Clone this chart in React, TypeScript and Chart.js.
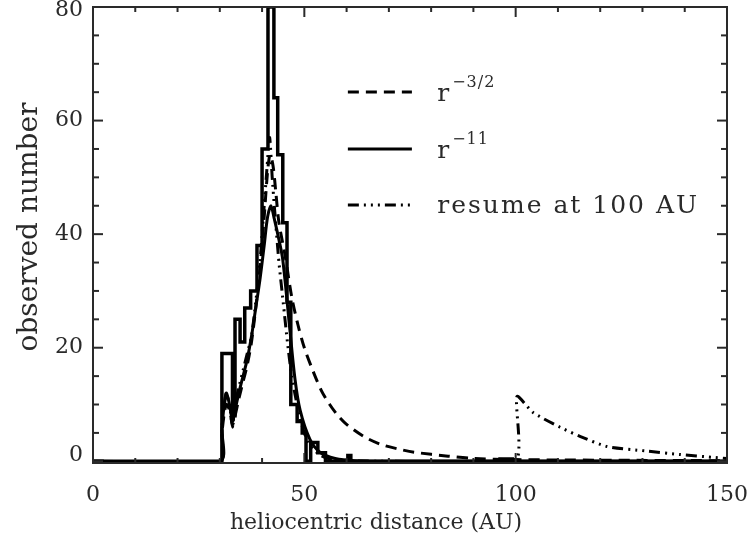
import { useEffect, useRef } from "react";
import { Chart, registerables } from "chart.js";

Chart.register(...registerables);

// ---------- data ----------
const xTicksMajor = [0, 50, 100, 150];
const yTicksMajor = [0, 20, 40, 60, 80];

// histogram: counts[i] applies to [edges[i], edges[i+1]]
const histEdges = [0, 30.5, 33.0, 33.6, 34.8, 35.9, 37.3, 38.8, 40.0, 41.4, 42.8, 43.7, 44.9, 45.9, 46.8, 48.3, 49.5, 50.4, 51.5, 53.2, 55.0, 60.3, 61.0, 96.3, 99.2, 150];
const histCounts = [0, 19, 8, 25, 21, 27, 30, 38, 55, 80, 64, 54, 42, 28, 10, 7, 5, 0, 3.3, 1.5, 0, 1, 0, 0.4, 0, 0];

// r^-3/2 model (dashed)
const flatX = [0, 30, 30.5, 31.5, 32.3, 33, 33.6, 34.5, 35.5, 36.5, 37.5, 38.5, 39.5, 40.5, 41.3, 41.9, 42.6, 43.3, 44, 45.5, 47, 48.5, 50, 52, 54, 56, 58, 60, 64, 68, 72, 76, 84, 90, 100, 120, 150];
const flatY = [0, 0, 5, 10, 9, 6.5, 8, 11, 14, 17, 21, 27, 34, 43, 51, 54, 52, 47, 42, 36, 29, 24, 20, 16, 12.5, 10, 8, 6.5, 4.4, 3, 2.2, 1.6, 0.9, 0.5, 0.3, 0.2, 0.1];

// r^-11 model (solid)
const steepX = [0, 30, 30.5, 31.5, 32.3, 33, 33.6, 34.5, 35.5, 36.5, 37.5, 38.5, 39.5, 40.5, 41.3, 42.1, 42.8, 44, 44.9, 46.6, 47.8, 49, 51.3, 53.7, 57.3, 62, 70, 150];
const steepY = [0, 0, 6, 12, 10, 7, 9, 12, 15, 18, 22, 27, 32, 38, 43, 45, 43, 39, 35.5, 23, 14.4, 9, 3.9, 1.6, 0.5, 0.1, 0, 0];

// resume at 100 AU model (dash-dot-dot-dot)
const resumeX = [0, 30, 30.5, 31.5, 32.3, 33, 33.6, 34.5, 35.5, 36.5, 37.5, 38.5, 39.5, 40.5, 41.3, 41.8, 42.4, 43, 44, 45, 46, 47, 48, 49, 50, 51, 52, 54, 56, 60, 70, 99.9, 100.3, 104.1, 110.5, 115.2, 121.6, 131, 138.9, 146.7, 150];
const resumeY = [0, 0, 6, 12, 10, 6, 10, 13, 16, 19, 22, 28, 35, 45, 53, 57, 50, 44, 35, 28, 21, 15, 11, 7.5, 5, 3.3, 2.2, 1, 0.4, 0.1, 0, 0, 11.4, 8.6, 6, 4.4, 2.6, 1.8, 1.2, 0.7, 0.5];

const legendLabels = [
  { base: "r", sup: "\u22123/2", text: "" },
  { base: "r", sup: "\u221211", text: "" },
  { base: "", sup: "", text: "resume at 100 AU" },
];

const X_MIN = 0;
const X_MAX = 150;
const Y_MIN = -0.3;
const Y_MAX = 80;
const FONT = "'DejaVu Serif', serif";
const INK = "#2a2a2a";

const zip = (xs: number[], ys: number[]) => xs.map((x, i) => ({ x, y: ys[i] }));

const idlPlugin = {
  id: "idlAxes",
  afterDraw(chart: any) {
    const { ctx, chartArea: a, scales } = chart;
    const xs = scales.x;
    const ys = scales.y;
    ctx.save();
    ctx.strokeStyle = INK;
    ctx.fillStyle = INK;
    ctx.lineWidth = 2;
    ctx.setLineDash([]);
    ctx.strokeRect(a.left, a.top, a.right - a.left, a.bottom - a.top);
    const seg = (x1: number, y1: number, x2: number, y2: number) => {
      ctx.beginPath();
      ctx.moveTo(x1, y1);
      ctx.lineTo(x2, y2);
      ctx.stroke();
    };
    // x ticks
    for (let v = X_MIN; v <= X_MAX; v += 10) {
      const px = xs.getPixelForValue(v);
      const len = v % 50 === 0 ? 10 : 5;
      seg(px, a.bottom, px, a.bottom - len);
      seg(px, a.top, px, a.top + len);
    }
    // y ticks
    for (let v = 0; v <= Y_MAX; v += 5) {
      const py = ys.getPixelForValue(v);
      const len = v % 20 === 0 ? 10 : 6;
      seg(a.left, py, a.left + len, py);
      seg(a.right, py, a.right - len, py);
    }
    // tick labels
    ctx.font = `22px ${FONT}`;
    ctx.textBaseline = "middle";
    ctx.textAlign = "center";
    xTicksMajor.forEach((v) => ctx.fillText(String(v), xs.getPixelForValue(v), a.bottom + 32));
    ctx.textAlign = "right";
    yTicksMajor.forEach((v) => {
      let py = ys.getPixelForValue(v);
      if (v === 0) py -= 6;
      if (v === Y_MAX) py += 3;
      ctx.fillText(String(v), a.left - 10, py);
    });
    // axis titles
    ctx.font = `22px ${FONT}`;
    ctx.textAlign = "center";
    ctx.fillText("heliocentric distance (AU)", (a.left + a.right) / 2 - 34, a.bottom + 60);
    ctx.save();
    ctx.font = `28px ${FONT}`;
    ctx.translate(30, (a.top + a.bottom) / 2 - 8);
    ctx.rotate(-Math.PI / 2);
    ctx.fillText("observed number", 0, 0);
    ctx.restore();

    // legend
    const w = a.right - a.left;
    const lx0 = a.left + w * 0.402;
    const lx1 = a.left + w * 0.503;
    const tx = a.left + w * 0.543;
    const rowY = [92, 149, 205];
    const dsIdx = [1, 2, 3];
    dsIdx.forEach((di, i) => {
      const ds = chart.data.datasets[di];
      ctx.strokeStyle = "#000";
      ctx.lineWidth = ds.borderWidth;
      ctx.setLineDash(ds.borderDash || []);
      seg(lx0, rowY[i], lx1, rowY[i]);
      ctx.setLineDash([]);
      ctx.fillStyle = INK;
      ctx.textAlign = "left";
      ctx.textBaseline = "middle";
      const lab = legendLabels[i];
      (ctx as any).letterSpacing = "2px";
      if (lab.text) {
        ctx.font = `25px ${FONT}`;
        ctx.fillText(lab.text, tx, rowY[i] + 1);
      } else {
        ctx.font = `25px ${FONT}`;
        ctx.fillText(lab.base, tx, rowY[i] + 2);
        const bw = ctx.measureText(lab.base).width;
        ctx.font = `16px ${FONT}`;
        (ctx as any).letterSpacing = "1px";
        ctx.fillText(lab.sup, tx + bw + 1, rowY[i] - 9);
      }
      (ctx as any).letterSpacing = "0px";
    });
    ctx.restore();
  },
};

export default function App() {
  const ref = useRef<HTMLCanvasElement | null>(null);
  useEffect(() => {
    if (!ref.current) return;
    const histData = histEdges.map((e, i) => ({ x: e, y: histCounts[i] }));
    const chart = new Chart(ref.current, {
      type: "line",
      data: {
        datasets: [
          {
            label: "observed",
            data: histData,
            stepped: "before",
            borderColor: "#000",
            borderWidth: 3.5,
            pointRadius: 0,
            fill: false,
          },
          {
            label: "r^-3/2",
            data: zip(flatX, flatY),
            borderColor: "#000",
            borderWidth: 3,
            borderDash: [11, 7],
            pointRadius: 0,
            tension: 0.3,
            fill: false,
          },
          {
            label: "r^-11",
            data: zip(steepX, steepY),
            borderColor: "#000",
            borderWidth: 3,
            pointRadius: 0,
            tension: 0.3,
            fill: false,
          },
          {
            label: "resume at 100 AU",
            data: zip(resumeX, resumeY),
            borderColor: "#000",
            borderWidth: 3,
            borderDash: [11, 5, 2, 5, 2, 5, 2, 5],
            pointRadius: 0,
            tension: 0.2,
            fill: false,
          },
        ],
      },
      options: {
        animation: false,
        responsive: false,
        maintainAspectRatio: false,
        layout: { padding: { left: 93, right: 27, top: 7, bottom: 75 } },
        plugins: { legend: { display: false }, tooltip: { enabled: false } },
        scales: {
          x: { type: "linear", min: X_MIN, max: X_MAX, display: false },
          y: { type: "linear", min: Y_MIN, max: Y_MAX, display: false },
        },
      },
      plugins: [idlPlugin],
    });
    return () => chart.destroy();
  }, []);
  return (
    <div style={{ position: "fixed", left: 0, top: 0, width: 754, height: 538, background: "#fff" }}>
      <canvas ref={ref} width={754} height={538} style={{ width: 754, height: 538 }} />
    </div>
  );
}
